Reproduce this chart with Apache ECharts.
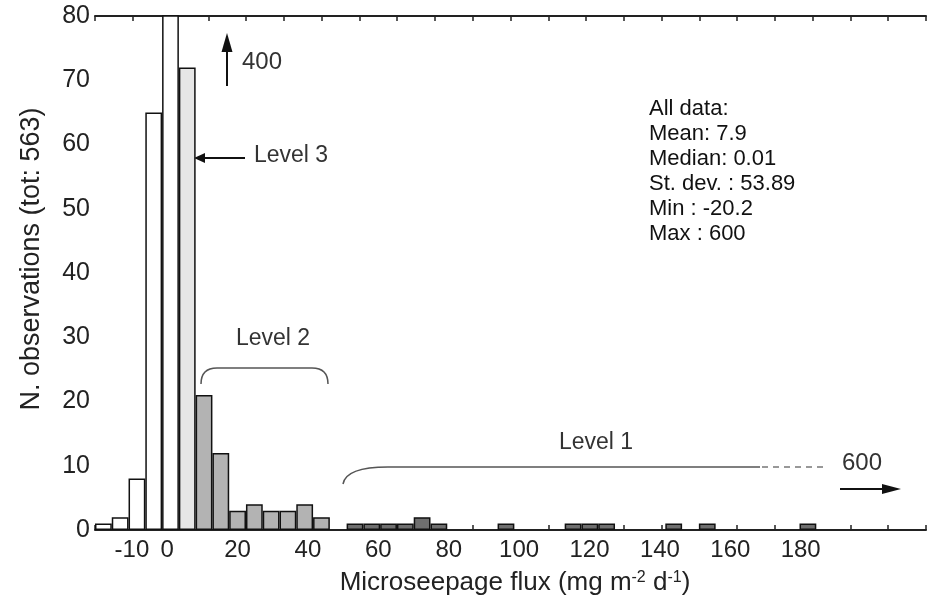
<!DOCTYPE html>
<html lang="en">
<head>
    <meta charset="UTF-8">
    <title>Microseepage flux histogram</title>
    <style>
        html, body { margin: 0; padding: 0; background: #fff; }
        #chart { width: 928px; height: 600px; }
    </style>
</head>
<body>
    <div id="chart"></div>
    <script src="https://cdn.jsdelivr.net/npm/echarts@6.0.0/dist/echarts.min.js"></script>
    <script>
    // histogram bins (5 mg/m2/d wide, bin centres) and counts, per level
    var binsBase = [-20, -15, -10, -5, 0];
    var countsBase = [1, 2, 8, 65, 400];
    var binsL3 = [5];
    var countsL3 = [72];
    var binsL2 = [10, 15, 20, 25, 30, 35, 40, 45];
    var countsL2 = [21, 12, 3, 4, 3, 3, 4, 2];
    var binsL1 = [55, 60, 65, 70, 75, 80, 100, 120, 125, 130, 150, 160, 190];
    var countsL1 = [1, 1, 1, 1, 2, 1, 1, 1, 1, 1, 1, 1, 1];

    var xTickLabels = [-10, 0, 20, 40, 60, 80, 100, 120, 140, 160, 180];
    var statsLines = ['All data:', 'Mean: 7.9', 'Median: 0.01', 'St. dev. : 53.89', 'Min : -20.2', 'Max : 600'];

    var FONT = 'Liberation Sans, Arial, sans-serif';
    var INK = '#222';

    function items(bins, counts, fill) {
        return bins.map(function(b, i) {
            return { value: [b, counts[i]], itemStyle: { color: fill } };
        });
    }

    var barData = []
        .concat(items(binsBase, countsBase, '#ffffff'))
        .concat(items(binsL3, countsL3, '#e6e6e6'))
        .concat(items(binsL2, countsL2, '#b3b3b3'))
        .concat(items(binsL1, countsL1, '#6f6f6f'));

    var frameLine = { show: true, lineStyle: { color: INK, width: 2 } };
    var innerTick = { inside: true, length: 5, lineStyle: { color: INK, width: 1.5 } };

    var chart = echarts.init(document.getElementById('chart'));
    chart.setOption({
        animation: false,
        backgroundColor: '#fff',
        textStyle: { fontFamily: FONT },
        grid: { left: 95, right: 2, top: 16, bottom: 70, containLabel: false, outerBoundsMode: 'none' },
        xAxis: [{
            // labelled axis
            type: 'value', position: 'bottom', min: -20.5, max: 215.6,
            axisLine: frameLine,
            axisTick: { show: false },
            splitLine: { show: false },
            axisLabel: { customValues: xTickLabels, fontSize: 24, color: INK, margin: 8, fontFamily: FONT },
            name: '{t|Microseepage flux (mg m}{s|-2}{t| d}{s|-1}{t|)}',
            nameLocation: 'middle', nameGap: 40,
            nameTextStyle: {
                padding: [0, 0, 0, 9],
                rich: {
                    t: { fontSize: 26, color: INK, fontFamily: FONT },
                    s: { fontSize: 16, color: INK, fontFamily: FONT, verticalAlign: 'top', padding: [0, 0, 10, 0] }
                }
            }
        }, {
            // bin axis for the bars
            type: 'value', position: 'bottom', min: -22.5, max: 225.2, show: false
        }, {
            type: 'value', position: 'bottom', min: -20, max: 200, interval: 10,
            axisLine: { show: false },
            axisTick: innerTick,
            axisLabel: { show: false }, splitLine: { show: false }
        }, {
            type: 'value', position: 'top', min: -20, max: 200, interval: 10,
            axisLine: frameLine,
            axisTick: innerTick,
            axisLabel: { show: false }, splitLine: { show: false }
        }],
        yAxis: [{
            type: 'value', position: 'left', min: 0, max: 80, interval: 10,
            axisLine: frameLine,
            axisTick: innerTick,
            splitLine: { show: false },
            axisLabel: { fontSize: 25, color: INK, margin: 5, fontFamily: FONT },
            name: 'N. observations (tot: 563)',
            nameLocation: 'middle', nameGap: 50,
            nameTextStyle: { fontSize: 27, color: INK, fontFamily: FONT, padding: [0, 0, 0, 28] }
        }, {
            type: 'value', position: 'right', min: 0, max: 80, interval: 10,
            axisLine: frameLine,
            axisTick: innerTick,
            axisLabel: { show: false }, splitLine: { show: false }
        }],
        series: [{
            type: 'bar',
            xAxisIndex: 1,
            yAxisIndex: 0,
            barWidth: 16.8,
            clip: true,
            itemStyle: { borderColor: '#111', borderWidth: 1.5 },
            data: barData
        }],
        graphic: [
            // "400" arrow (bar goes off scale)
            { type: 'line', shape: { x1: 227, y1: 86, x2: 227, y2: 50 }, style: { stroke: '#111', lineWidth: 2 } },
            { type: 'polygon', shape: { points: [[221.5, 52], [232.5, 52], [227, 33]] }, style: { fill: '#111' } },
            { type: 'text', x: 242, y: 62, style: { text: '400', font: '24px ' + FONT, fill: '#333', verticalAlign: 'middle' } },
            // Level 3
            { type: 'line', shape: { x1: 245, y1: 158, x2: 203, y2: 158 }, style: { stroke: '#111', lineWidth: 2 } },
            { type: 'polygon', shape: { points: [[205, 153], [205, 163], [194, 158]] }, style: { fill: '#111' } },
            { type: 'text', x: 254, y: 156, style: { text: 'Level 3', font: '23px ' + FONT, fill: '#333', verticalAlign: 'middle' } },
            // Level 2 bracket
            { type: 'bezierCurve', shape: { x1: 201, y1: 384, cpx1: 201, cpy1: 368, x2: 217, y2: 368 }, style: { stroke: '#555', lineWidth: 1.5, fill: null } },
            { type: 'line', shape: { x1: 217, y1: 368, x2: 312, y2: 368 }, style: { stroke: '#555', lineWidth: 1.5 } },
            { type: 'bezierCurve', shape: { x1: 312, y1: 368, cpx1: 328, cpy1: 368, x2: 328, y2: 384 }, style: { stroke: '#555', lineWidth: 1.5, fill: null } },
            { type: 'text', x: 273, y: 339, style: { text: 'Level 2', font: '23px ' + FONT, fill: '#333', align: 'center', verticalAlign: 'middle' } },
            // Level 1 bracket
            { type: 'bezierCurve', shape: { x1: 343, y1: 484, cpx1: 346, cpy1: 467, x2: 388, y2: 467 }, style: { stroke: '#555', lineWidth: 1.5, fill: null } },
            { type: 'line', shape: { x1: 388, y1: 467, x2: 760, y2: 467 }, style: { stroke: '#555', lineWidth: 1.5 } },
            { type: 'line', shape: { x1: 762, y1: 467, x2: 828, y2: 467 }, style: { stroke: '#777', lineWidth: 1.5, lineDash: [6, 5] } },
            { type: 'text', x: 596, y: 443, style: { text: 'Level 1', font: '23px ' + FONT, fill: '#333', align: 'center', verticalAlign: 'middle' } },
            // "600" arrow (max off scale)
            { type: 'text', x: 842, y: 463, style: { text: '600', font: '24px ' + FONT, fill: '#333', verticalAlign: 'middle' } },
            { type: 'line', shape: { x1: 840, y1: 489, x2: 884, y2: 489 }, style: { stroke: '#111', lineWidth: 2 } },
            { type: 'polygon', shape: { points: [[882, 484], [882, 494], [901, 489]] }, style: { fill: '#111' } },
            // summary statistics
            { type: 'text', x: 649, y: 96, style: { text: statsLines.join('\n'), font: '22px ' + FONT, lineHeight: 25, fill: '#111' } }
        ]
    });
    </script>
</body>
</html>
